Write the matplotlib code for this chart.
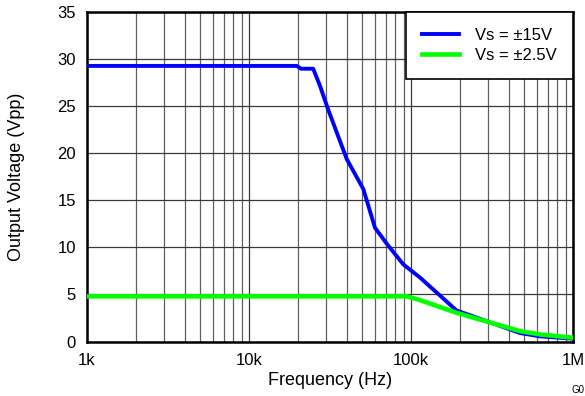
import matplotlib
matplotlib.use("Agg")
import matplotlib.pyplot as plt
from matplotlib.ticker import LogLocator, NullFormatter

plt.rcParams['font.family'] = ['Liberation Sans', 'DejaVu Sans']

freq_15 = [1000, 19700, 21000, 24900, 27400, 30900, 40100, 50800, 59900, 70800, 89600, 113600, 191000, 471000, 625000, 1000000]
vpp_15 = [29.3, 29.3, 29.0, 29.0, 27.2, 24.6, 19.4, 16.2, 12.1, 10.4, 8.2, 6.8, 3.3, 0.9, 0.55, 0.3]
freq_25 = [1000, 94000, 113600, 191000, 471000, 625000, 1000000]
vpp_25 = [4.8, 4.8, 4.4, 3.05, 1.1, 0.75, 0.4]
labels = ["Vs = \u00b115V", "Vs = \u00b12.5V"]
xticks = [1e3, 1e4, 1e5, 1e6]
xticklabels = ["1k", "10k", "100k", "1M"]
yticks = [0, 5, 10, 15, 20, 25, 30, 35]

fig = plt.figure(figsize=(5.85, 3.96), dpi=100)
ax = fig.add_axes([87 / 585, (396 - 341.5) / 396, (573 - 87) / 585, (341.5 - 12.3) / 396])
ax.plot(freq_15, vpp_15, color='#0000ff', lw=2.8, label=labels[0], zorder=3)
ax.plot(freq_25, vpp_25, color='#00ff00', lw=3.3, label=labels[1], zorder=3)
ax.set_xscale('log')
ax.set_xlim(1e3, 1e6)
ax.set_ylim(0, 35)
ax.set_xticks(xticks)
ax.set_xticklabels(xticklabels)
ax.xaxis.set_minor_locator(LogLocator(base=10, subs=range(2, 10)))
ax.xaxis.set_minor_formatter(NullFormatter())
ax.set_yticks(yticks)
ax.grid(True, which='major', color='#3a3a3a', lw=0.9)
ax.grid(True, which='minor', axis='x', color='#606060', lw=0.9)
ax.tick_params(which='both', length=0, labelsize=12)
ax.tick_params(axis='y', pad=8)
ax.tick_params(axis='x', pad=8)
for s in ax.spines.values():
    s.set_linewidth(1.8)
    s.set_color('black')
ax.set_xlabel("Frequency (Hz)", fontsize=13, labelpad=3)
ax.set_ylabel("Output Voltage (Vpp)", fontsize=13)
ax.yaxis.set_label_coords(-0.128, 0.5)
leg = ax.legend(loc='upper right', fontsize=12, frameon=True, fancybox=False,
                borderaxespad=0, handlelength=2.2, handletextpad=1.0,
                labelspacing=0.3, borderpad=0.95, framealpha=1)
leg.get_frame().set_edgecolor('black')
leg.get_frame().set_linewidth(1.2)
fig.text(571 / 585, 0.008, "G0", fontsize=7)
fig.savefig("out.png", dpi=100)
